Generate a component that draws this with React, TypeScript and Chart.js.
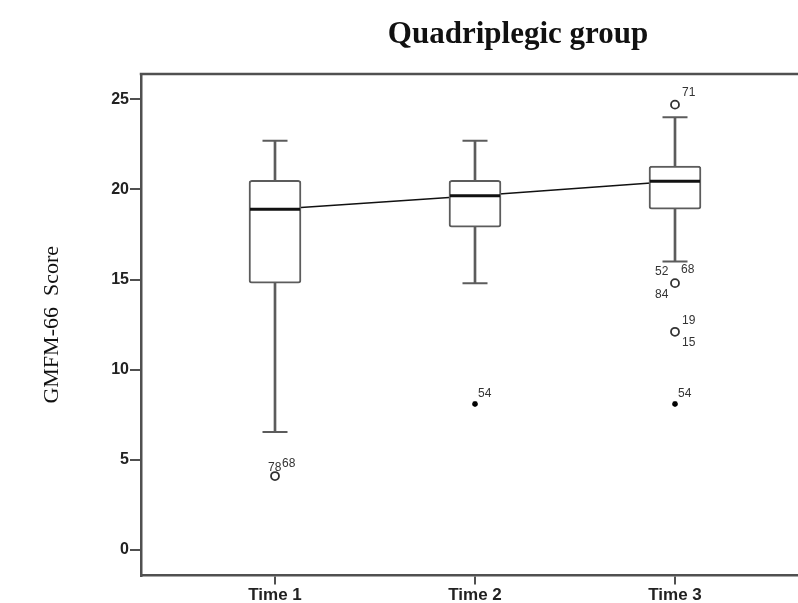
import React, { useEffect, useRef } from 'react';
import { Chart, registerables } from 'chart.js';
Chart.register(...registerables);

// ---- data ----
const chartTitle = 'Quadriplegic group';
const yAxisTitle = 'GMFM-66  Score';
const categories = ['Time 1', 'Time 2', 'Time 3'];
const whiskerLow = [6.55, 14.8, 16.0];
const q1 = [14.8, 17.9, 18.9];
const median = [18.9, 19.65, 20.45];
const q3 = [20.5, 20.5, 21.3];
const whiskerHigh = [22.7, 22.7, 24.0];
const yTicks = [0, 5, 10, 15, 20, 25];
// mild outliers (circles): category index, value, case ids
const outlierCat = [0, 2, 2, 2];
const outlierVal = [4.1, 24.7, 14.8, 12.1];
const outlierIds = [['78', '68'], ['71'], ['52', '68', '84'], ['19', '15']];
// extreme outliers (stars)
const extremeCat = [1, 2];
const extremeVal = [8.1, 8.1];
const extremeIds = [['54'], ['54']];

// ---- styles (label offsets in px relative to the mark) ----
const outlierLabelOffsets = [
  [[-7, -8], [7, -12]],
  [[7, -12]],
  [[-20, -11], [6, -13], [-20, 12]],
  [[7, -11], [7, 11]],
];
const extremeLabelOffsets = [[[3, -10]], [[3, -10]]];

const FRAME = '#505050';
const BOX = '#5c5c5c';

export default function App() {
  const ref = useRef<HTMLCanvasElement>(null);
  useEffect(() => {
    const canvas = ref.current!;
    const idx = categories.map((_, i) => i);

    const overlay = {
      id: 'overlay',
      afterDraw(chart: any) {
        const { ctx, chartArea, scales } = chart;
        const xs = scales.x;
        const ys = scales.y;
        ctx.save();
        // top frame line
        ctx.strokeStyle = FRAME;
        ctx.lineWidth = 2.5;
        ctx.beginPath();
        ctx.moveTo(chartArea.left - 1.25, chartArea.top);
        ctx.lineTo(chartArea.right, chartArea.top);
        ctx.stroke();
        // title
        ctx.fillStyle = '#111';
        ctx.font = 'bold 31px "Liberation Serif"';
        ctx.textAlign = 'center';
        ctx.textBaseline = 'alphabetic';
        ctx.fillText(chartTitle, chartArea.left + 377, 43);
        // y title
        ctx.save();
        ctx.translate(52, (chartArea.top + chartArea.bottom) / 2);
        ctx.rotate(-Math.PI / 2);
        ctx.font = '22px "Liberation Serif"';
        ctx.textBaseline = 'middle';
        ctx.fillText(yAxisTitle, 0, 0);
        ctx.restore();
        // outlier labels
        ctx.font = '12px "Liberation Sans"';
        ctx.fillStyle = '#333';
        ctx.textAlign = 'left';
        ctx.textBaseline = 'middle';
        outlierCat.forEach((c, i) => {
          const px = xs.getPixelForValue(c);
          const py = ys.getPixelForValue(outlierVal[i]);
          outlierIds[i].forEach((id, j) => {
            const [dx, dy] = outlierLabelOffsets[i][j];
            ctx.fillText(id, px + dx, py + dy);
          });
        });
        extremeCat.forEach((c, i) => {
          const px = xs.getPixelForValue(c);
          const py = ys.getPixelForValue(extremeVal[i]);
          extremeIds[i].forEach((id, j) => {
            const [dx, dy] = extremeLabelOffsets[i][j];
            ctx.fillText(id, px + dx, py + dy);
          });
        });
        ctx.restore();
      },
    };

    const chart = new Chart(canvas, {
      type: 'bar',
      data: {
        datasets: [
          {
            type: 'line',
            data: idx.map((i) => ({ x: i, y: median[i] })),
            borderColor: '#111',
            borderWidth: 1.5,
            pointRadius: 0,
            order: 10,
          } as any,
          {
            type: 'bar',
            data: idx.map((i) => ({ x: i, y: [whiskerLow[i], q1[i]] })),
            backgroundColor: BOX,
            borderWidth: 0,
            barThickness: 2,
            grouped: false,
            order: 9,
          },
          {
            type: 'bar',
            data: idx.map((i) => ({ x: i, y: [q3[i], whiskerHigh[i]] })),
            backgroundColor: BOX,
            borderWidth: 0,
            barThickness: 2,
            grouped: false,
            order: 9,
          },
          {
            type: 'bar',
            data: idx.map((i) => ({ x: i, y: [q1[i], q3[i]] })),
            backgroundColor: '#ffffff',
            borderColor: BOX,
            borderWidth: 2,
            borderSkipped: false,
            borderRadius: 3,
            barThickness: 52,
            grouped: false,
            order: 5,
          },
          {
            type: 'scatter',
            data: [
              ...idx.map((i) => ({ x: i, y: whiskerLow[i] })),
              ...idx.map((i) => ({ x: i, y: whiskerHigh[i] })),
            ],
            pointStyle: 'line',
            pointRadius: 12.5,
            borderColor: BOX,
            borderWidth: 2,
            order: 4,
          },
          {
            type: 'scatter',
            data: idx.map((i) => ({ x: i, y: median[i] })),
            pointStyle: 'line',
            pointRadius: 25,
            borderColor: '#111',
            borderWidth: 3,
            order: 3,
          },
          {
            type: 'scatter',
            data: outlierCat.map((c, i) => ({ x: c, y: outlierVal[i] })),
            pointStyle: 'circle',
            pointRadius: 4,
            backgroundColor: '#ffffff',
            borderColor: '#333',
            borderWidth: 1.8,
            order: 2,
          },
          {
            type: 'scatter',
            data: extremeCat.map((c, i) => ({ x: c, y: extremeVal[i] })),
            pointStyle: 'star',
            pointRadius: 3,
            borderColor: '#000',
            borderWidth: 1.5,
            order: 1,
          },
        ] as any,
      },
      options: {
        animation: false,
        responsive: false,
        devicePixelRatio: 1,
        layout: { autoPadding: false, padding: { top: 74, left: 0, right: 0, bottom: 0 } },
        plugins: { legend: { display: false }, tooltip: { enabled: false }, title: { display: false } },
        scales: {
          x: {
            type: 'linear',
            min: -0.67,
            max: 2.615,
            offset: false,
            afterBuildTicks: (s: any) => {
              s.ticks = idx.map((v) => ({ value: v }));
            },
            afterFit: (s: any) => {
              s.height = 27.5;
              s.paddingLeft = 0;
              s.paddingRight = 0;
            },
            grid: { display: true, offset: false, drawOnChartArea: false, drawTicks: true, tickLength: 9, color: FRAME, lineWidth: 2 },
            border: { display: true, color: FRAME, width: 2.5 },
            ticks: {
              padding: 1,
              color: '#222',
              font: { family: '"Liberation Sans"', size: 17, weight: 'bold' },
              callback: (_v: any, i: number) => categories[i],
              maxRotation: 0,
              autoSkip: false,
            },
          },
          y: {
            type: 'linear',
            min: -1.414,
            max: 26.4,
            afterBuildTicks: (s: any) => {
              s.ticks = yTicks.map((v) => ({ value: v }));
            },
            afterFit: (s: any) => {
              s.width = 141;
              s.paddingTop = 0;
              s.paddingBottom = 0;
            },
            grid: { display: true, drawOnChartArea: false, drawTicks: true, tickLength: 11, color: FRAME, lineWidth: 2 },
            border: { display: true, color: FRAME, width: 2.5 },
            ticks: {
              padding: 1,
              color: '#222',
              font: { family: '"Liberation Sans"', size: 16, weight: 'bold' },
            },
          },
        },
      } as any,
      plugins: [overlay],
    });
    return () => chart.destroy();
  }, []);
  return (
    <div style={{ position: 'fixed', left: 0, top: 0, width: 798, height: 603, background: '#fff' }}>
      <canvas ref={ref} width={798} height={603} style={{ display: 'block' }} />
    </div>
  );
}
